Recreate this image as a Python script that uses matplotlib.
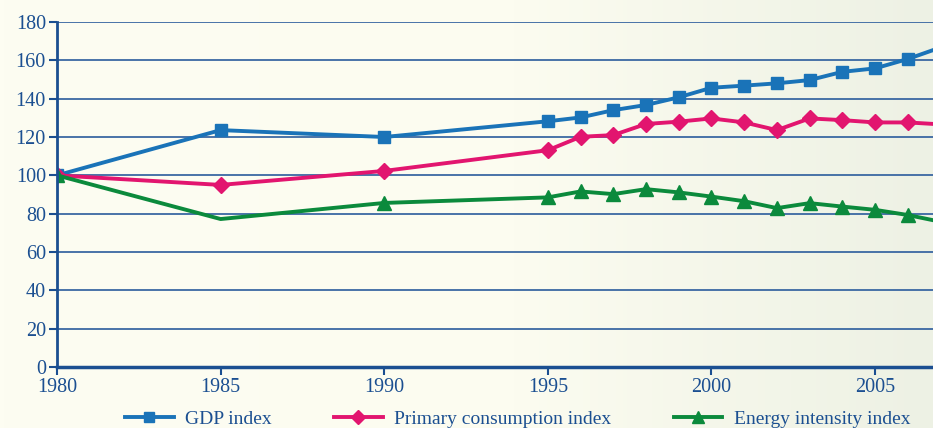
import numpy as np
import matplotlib.pyplot as plt
from matplotlib.colors import LinearSegmentedColormap

years = [1980, 1985, 1990, 1995, 1996, 1997, 1998, 1999, 2000, 2001, 2002, 2003, 2004, 2005, 2006, 2007]
gdp = [100, 123.6, 120, 128.2, 130.2, 134, 136.7, 140.7, 145.7, 146.8, 148, 149.7, 154, 155.8, 160.7, 166.7]
primary = [100, 95, 102.3, 113.1, 120.1, 121, 126.8, 128, 129.7, 127.6, 123.6, 129.7, 128.8, 127.6, 127.6, 126.6]
energy = [100, 77.2, 85.6, 88.5, 91.6, 90.2, 92.8, 91.1, 88.9, 86.5, 82.9, 85.5, 83.7, 82, 79.3, 75.8]
yticks = list(range(0, 181, 20))
xticks = [1980, 1985, 1990, 1995, 2000, 2005]

navy = '#1B4F91'
plt.rcParams['font.family'] = ['Liberation Serif', 'DejaVu Serif']

fig = plt.figure(figsize=(9.33, 4.28), dpi=100)

# background gradient (cream -> pale green on the right)
bg = fig.add_axes([0, 0, 1, 1], zorder=-10)
cmap = LinearSegmentedColormap.from_list('bg', [(0, '#FDFDF2'), (0.55, '#FCFCF0'), (1.0, '#EDF1E4')])
bg.imshow(np.linspace(0, 1, 256)[None, :], aspect='auto', cmap=cmap, extent=[0, 1, 0, 1])
bg.axis('off')

ax = fig.add_axes([0.0611, 0.1425, 0.9389, 0.8061])
ax.patch.set_alpha(0)

for y in yticks[1:]:
    ax.axhline(y, color='#2B5C9C', lw=1.2, zorder=1)

ax.plot(years, gdp, color='#1A73B8', lw=2.8, marker='s', ms=9, zorder=3, label='GDP index')
ax.plot(years, primary, color='#E2156F', lw=2.8, marker='D', ms=8.5, zorder=3, label='Primary consumption index')
ax.plot(years, energy, color='#0B8A3C', lw=2.8, marker='^', ms=10.5, zorder=3,
        markevery=[0] + list(range(2, len(years))), label='Energy intensity index')

ax.set_xlim(1980, 2006.77)
ax.set_ylim(0, 180)
ax.set_yticks(yticks)
ax.set_xticks(xticks)
ax.tick_params(colors=navy, labelsize=14.5, length=6, width=1.5, pad=2)
for s in ['top', 'right']:
    ax.spines[s].set_visible(False)
ax.spines['left'].set_color(navy)
ax.spines['left'].set_linewidth(2)
ax.spines['bottom'].set_color(navy)
ax.spines['bottom'].set_linewidth(2.5)
ax.spines['left'].set_zorder(4)

leg = fig.legend(loc='center left', bbox_to_anchor=(0.134, 0.021), ncol=3, frameon=False,
                 fontsize=14, handlelength=2.5, columnspacing=3.2, handletextpad=0.6,
                 markerscale=0.8, borderpad=0, borderaxespad=0)
for t in leg.get_texts():
    t.set_color(navy)

fig.savefig('out.png', dpi=100)
